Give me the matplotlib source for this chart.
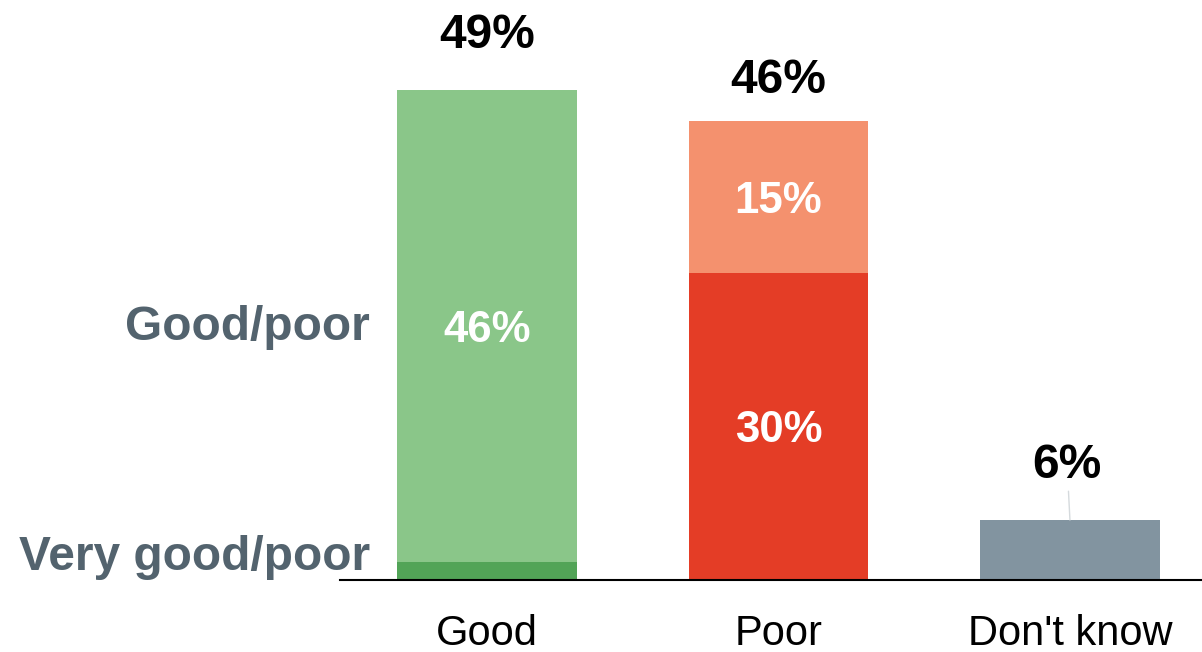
import matplotlib
matplotlib.use("Agg")
import matplotlib.pyplot as plt
import numpy as np

plt.rcParams['font.family'] = ['Liberation Sans', 'DejaVu Sans']

# data (percent)
categories = ["Good", "Poor", "Don't know"]
very_part = [1.8, 30.7, 0.0]      # "very good" / "very poor"
plain_part = [47.2, 15.2, 6.0]    # "good" / "poor" / don't know
totals = ["49%", "46%", "6%"]
very_labels = ["", "30%", ""]
plain_labels = ["46%", "15%", ""]

very_colors = ["#52a457", "#e43d26", "#8294a0"]
plain_colors = ["#8ac689", "#f4916e", "#8294a0"]
label_col = "#53636e"

fig = plt.figure(figsize=(12.02, 6.52), dpi=100)
ax = fig.add_axes([340 / 1202, 72 / 652, 862 / 1202, 580 / 652])

x = np.arange(len(categories))
w = 0.617
ax.bar(x, very_part, width=w, color=very_colors, linewidth=0)
ax.bar(x, plain_part, width=w, bottom=very_part, color=plain_colors, linewidth=0)

# segment labels
for i in range(len(x)):
    if very_labels[i]:
        ax.text(x[i], very_part[i] / 2, very_labels[i], ha='center', va='center_baseline',
                color='white', fontsize=31.5, fontweight='bold')
    if plain_labels[i]:
        ax.text(x[i], very_part[i] + plain_part[i] / 2, plain_labels[i], ha='center',
                va='center_baseline', color='white', fontsize=31.5, fontweight='bold')

# totals above bars
offsets = [42.5, 32.5, 42.5]
for i in range(len(x)):
    top = very_part[i] + plain_part[i]
    if i == 2:
        ax.annotate(totals[i], xy=(x[i], top), xytext=(-2, offsets[i]),
                    textcoords='offset points', ha='center', va='center_baseline',
                    fontsize=34.5, fontweight='bold', color='black',
                    arrowprops=dict(arrowstyle='-', color='#d5dadd', lw=1,
                                    shrinkA=0, shrinkB=0))
    else:
        ax.annotate(totals[i], xy=(x[i], top), xytext=(0, offsets[i]),
                    textcoords='offset points', ha='center', va='center_baseline',
                    fontsize=34.5, fontweight='bold', color='black')

# row labels on the left
ax.text(0.035, 25.8, "Good/poor", transform=ax.get_yaxis_transform(),
        ha='right', va='center_baseline', fontsize=34.5, fontweight='bold',
        color=label_col, clip_on=False)
ax.text(0.035, 2.7, "Very good/poor", transform=ax.get_yaxis_transform(),
        ha='right', va='center_baseline', fontsize=34.5, fontweight='bold',
        color=label_col, clip_on=False)

ax.set_xlim(-0.504, 2.453)
ax.set_ylim(0, 58)
ax.set_xticks(x)
ax.set_xticklabels(categories, fontsize=30)
ax.tick_params(axis='x', length=0, pad=24.5)
ax.set_yticks([])
for s in ['top', 'right', 'left']:
    ax.spines[s].set_visible(False)
ax.spines['bottom'].set_linewidth(1.5)
ax.spines['bottom'].set_color('black')

fig.savefig("out.png", dpi=100)
